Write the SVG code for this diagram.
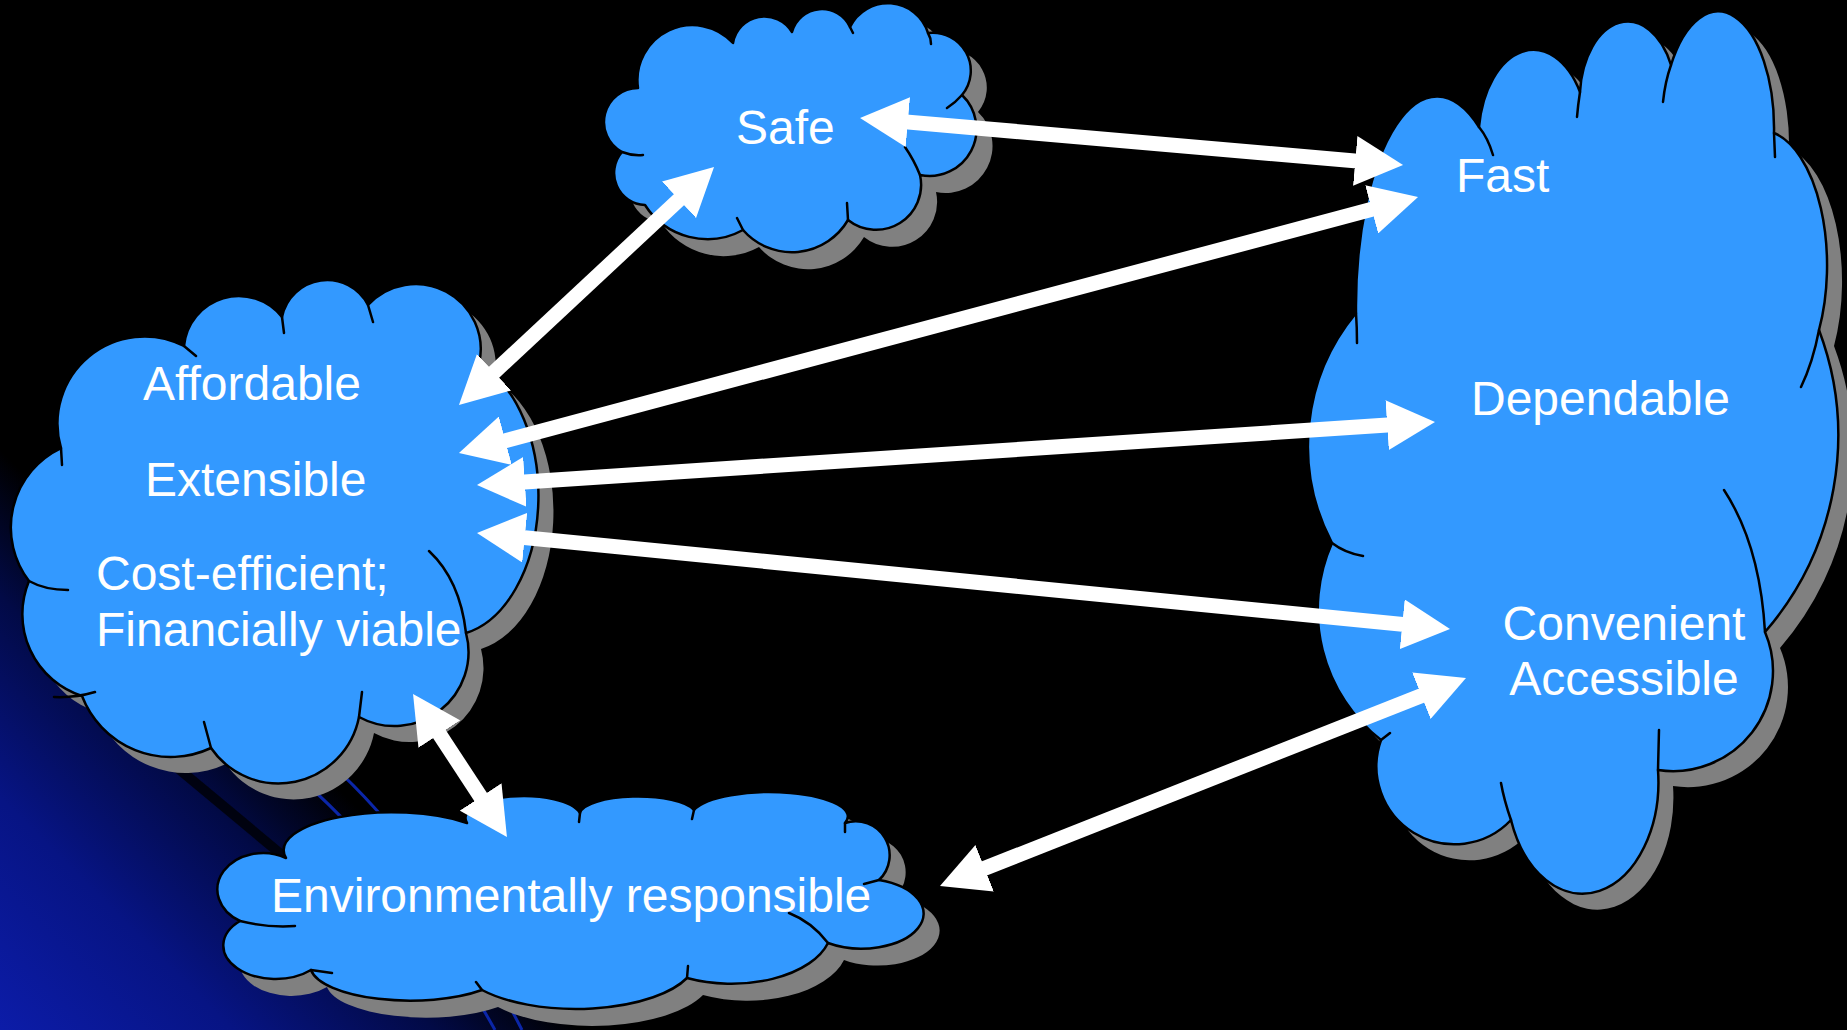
<svg xmlns="http://www.w3.org/2000/svg" xmlns:xlink="http://www.w3.org/1999/xlink" width="1847" height="1030" viewBox="0 0 1847 1030">
<defs>
  <linearGradient id="bgGlow" gradientUnits="userSpaceOnUse" x1="0" y1="1030" x2="290" y2="740">
    <stop offset="0" stop-color="#0c1ca8"/>
    <stop offset="0.4" stop-color="#071484"/>
    <stop offset="0.75" stop-color="#020a46"/>
    <stop offset="1" stop-color="#000000"/>
  </linearGradient>
  <marker id="ah" viewBox="0 0 48 50" refX="8" refY="25" markerWidth="48" markerHeight="50" markerUnits="userSpaceOnUse" orient="auto-start-reverse">
    <path d="M0,0 L48,25 L0,50 Z" fill="#ffffff"/>
  </marker>
  <path id="safeShape" d="M622 152 A34 34 0 0 1 638 88 A55 55 0 0 1 733 43 A32 32 0 0 1 792 32 A31 31 0 0 1 850 27 A42 42 0 0 1 928 33 A38 38 0 0 1 962 95 A47 47 0 0 1 920 175 A45 45 0 0 1 848 220 A65 65 0 0 1 743 230 A74 74 0 0 1 645 205 A32 32 0 0 1 622 152 Z"/>
  <path id="leftShape" d="M61 448 A87 87 0 0 1 184 346 A55 55 0 0 1 282 317 A46 46 0 0 1 368 305 A65 65 0 0 1 479 364 A90 140 0 0 1 466 633 A74 74 0 0 1 359 717 A82 82 0 0 1 211 748 A95 95 0 0 1 82 696 A86 86 0 0 1 29 581 A88 88 0 0 1 61 448 Z"/>
  <path id="rightShape" d="M1356 313 A81 210 0 0 1 1479 127 A55 90 0 0 1 1580 92 A48 77 0 0 1 1671 65 A56 117 0 0 1 1774 133 A66 135 0 0 1 1819 330 A300 300 0 0 1 1765 632 A100 100 0 0 1 1658 770 A76 112 0 0 1 1511 820 A78 78 0 0 1 1381 740 A165 165 0 0 1 1332 543 A208 208 0 0 1 1356 313 Z"/>
  <path id="envShape" d="M286 858 A108 38 0 0 1 467 823 A58 22 0 0 1 580 813 A58 18 0 0 1 694 810 A77 24 0 0 1 845 823 A34 34 0 0 1 879 880 A62 35 0 1 1 828 943 A100 55 0 0 1 687 978 A120 50 0 0 1 482 990 A100 35 0 0 1 311 970 A50 32 0 0 1 240 921 A40 32 0 0 1 286 858 Z"/>
</defs>
<style>
  .cloud{fill:#3399ff;stroke:#000000;stroke-width:2.5;stroke-linejoin:round}
  .shadow{fill:#808080;stroke:none}
  .crease{fill:none;stroke:#000000;stroke-width:2.5;stroke-linecap:round}
  .label{font-family:"Liberation Sans",Arial,sans-serif;font-size:48px;fill:#ffffff}
  .deco{fill:none;stroke:#0b26a8;stroke-width:3}
  .stripe{fill:none;stroke:#000000;stroke-width:10;stroke-opacity:0.75}
  .conn{fill:none;stroke:#ffffff;stroke-width:15;marker-start:url(#ah);marker-end:url(#ah)}
</style>

<rect x="0" y="0" width="1847" height="1030" fill="#000000"/>
<rect x="0" y="0" width="1847" height="1030" fill="url(#bgGlow)"/>
<path class="stripe" d="M150 745 L300 870"/>
<path class="deco" d="M290 770 Q400 860 495 1030"/>
<path class="deco" d="M322 756 Q430 850 522 1030"/>

<g id="node-safe">
  <use xlink:href="#safeShape" class="shadow" transform="translate(16,17)"/>
  <use xlink:href="#safeShape" class="cloud"/>
  <path class="crease" d="M622 152 Q632 156 643 155 M850 27 L853 33 M928 33 Q931 38 931 44 M962 95 Q955 103 947 108 M920 175 Q914 160 905 147 M848 220 L847 203 M743 230 Q740 224 737 218"/>
  <text class="label" x="736" y="144">Safe</text>
</g>

<g id="node-left">
  <use xlink:href="#leftShape" class="shadow" transform="translate(15,16)"/>
  <use xlink:href="#leftShape" class="cloud"/>
  <path class="crease" d="M61 448 L62 465 M184 346 L196 356 M282 317 L284 333 M368 305 L373 322 M479 364 L480 381 M466 633 Q460 580 429 551 M359 717 L362 692 M211 748 L204 722 M54 697 Q75 698 95 692 M29 581 Q45 590 68 590"/>
  <text class="label" x="143" y="400">Affordable</text>
  <text class="label" x="145" y="496">Extensible</text>
  <text class="label" x="96" y="590">Cost-efficient;</text>
  <text class="label" x="96" y="646">Financially viable</text>
</g>

<g id="node-right">
  <use xlink:href="#rightShape" class="shadow" transform="translate(15,16)"/>
  <use xlink:href="#rightShape" class="cloud"/>
  <path class="crease" d="M1356 313 Q1357 328 1357 343 M1479 127 Q1488 138 1493 155 M1580 92 Q1578 105 1577 117 M1671 65 Q1665 82 1663 102 M1774 133 L1775 157 M1819 330 Q1813 362 1801 387 M1765 632 Q1760 545 1724 490 M1658 770 L1659 730 M1511 820 Q1504 800 1501 783 M1381 740 L1390 733 M1332 543 Q1345 553 1363 556"/>
  <text class="label" x="1456" y="192">Fast</text>
  <text class="label" x="1471" y="415">Dependable</text>
  <text class="label" x="1624" y="640" text-anchor="middle">Convenient</text>
  <text class="label" x="1624" y="695" text-anchor="middle">Accessible</text>
</g>

<g id="node-env">
  <use xlink:href="#envShape" class="shadow" transform="translate(16,17)"/>
  <use xlink:href="#envShape" class="cloud"/>
  <path class="crease" d="M580 813 L579 822 M694 810 L692 819 M845 823 L845 832 M879 880 L864 884 M828 943 Q812 922 789 913 M687 978 L688 966 M482 990 L476 982 M311 970 L332 973 M240 921 Q268 928 295 926"/>
  <text class="label" x="271" y="912">Environmentally responsible</text>
</g>

<g id="connectors">
  <line class="conn" x1="899.9" y1="121.4" x2="1363.2" y2="161.6"/>
  <line class="conn" x1="497.6" y1="442.7" x2="1379.4" y2="207.3"/>
  <line class="conn" x1="684.8" y1="194.3" x2="488.2" y2="377.7"/>
  <line class="conn" x1="516.9" y1="482.4" x2="1395.1" y2="424.6"/>
  <line class="conn" x1="516.8" y1="536.9" x2="1410.2" y2="625.1"/>
  <line class="conn" x1="1428.8" y1="692.7" x2="977.2" y2="871.3"/>
  <line class="conn" x1="435" y1="727.4" x2="485" y2="803.6"/>
</g>
</svg>
